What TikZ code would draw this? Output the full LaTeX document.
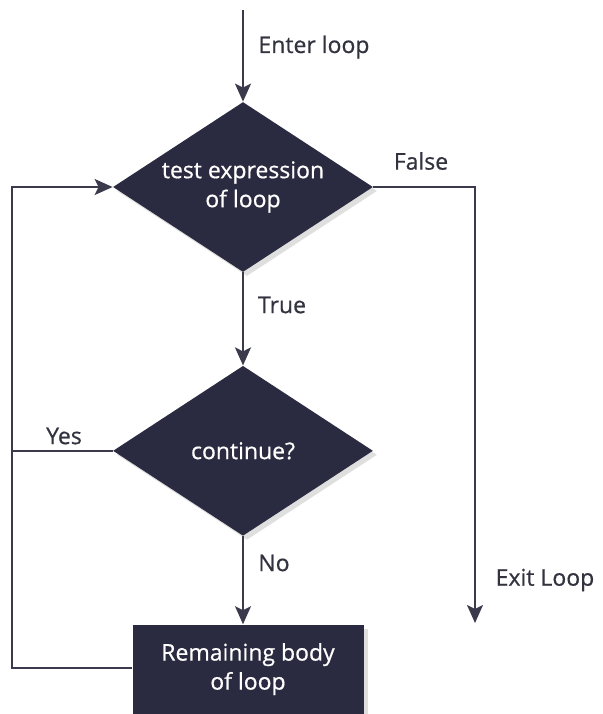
\documentclass[tikz,border=0pt]{standalone}
\usepackage{fontspec}
\setmainfont{Open Sans}
\newfontfamily\medfont{Open Sans}[FakeBold=0.6]
\usepackage{tikz}
\usetikzlibrary{shapes.geometric,arrows.meta,positioning,shadows}
\usepackage{xcolor}
\definecolor{loopnavy}{HTML}{2A2A40}
\definecolor{loopline}{HTML}{3A3A4C}
\definecolor{looptext}{HTML}{333340}
\tikzset{
  >={Stealth[length=9pt,width=8pt,inset=2pt]},
  decision/.style={diamond,fill=loopnavy,text=white,inner sep=0pt,
                   minimum width=130pt,minimum height=85pt,aspect=1.53,
                   align=center,font=\medfont\fontsize{11.5}{14.5}\selectfont,
                   drop shadow={opacity=0.25,shadow xshift=2pt,shadow yshift=-2pt}},
  bodybox/.style={rectangle,fill=loopnavy,text=white,
                  minimum width=115.5pt,minimum height=44.5pt,
                  align=center,font=\medfont\fontsize{11.5}{14.5}\selectfont,
                  drop shadow={opacity=0.25,shadow xshift=2pt,shadow yshift=-2pt}},
  lbl/.style={text=looptext,font=\medfont\fontsize{11.5}{13}\selectfont},
  arr/.style={->,line width=1pt,draw=loopline},
  ln/.style={line width=1pt,draw=loopline},
}
\begin{document}
\begin{tikzpicture}[x=0.5pt,y=-0.5pt]
    \useasboundingbox (0,0) rectangle (602,714);

    % Decision boxes
    \node[decision] (test) at (243,187) {test expression\\of loop};
    \node[decision,below=46.5pt of test] (cont) {continue?};
    \node[bodybox,below=44pt of cont,xshift=2.5pt] (body) {Remaining body\\of loop};

    % Free ends
    \coordinate (entry) at (243,10);
    \coordinate (exit) at (475,623);
    \coordinate (fcorner) at (475,187);
    \coordinate (lbottom) at (12,668);
    \coordinate (ltop) at (12,187);
    \coordinate (lmid) at (ltop |- cont.west);

    % Labels
    \node[lbl] (enter) at (314,47) {Enter loop};
    \node[lbl] (false) at (421,161) {False};
    \node[lbl] (true) at (282,305) {True};
    \node[lbl] (yes) at (64,436) {Yes};
    \node[lbl] (no) at (274,563) {No};
    \node[lbl] (exitlbl) at (545,580) {Exit Loop};

    % Arrows
    \draw[arr] (entry) -- (test.north);
    \draw[arr] (test.south) -- (cont.north);
    \draw[arr] (cont.south) -- (cont.south |- body.north);
    \draw[arr] (test.east) -- (fcorner) -- (exit);
    \draw[arr] (body.west |- lbottom) -- (lbottom) -- (ltop) -- (test.west);
    \draw[ln] (cont.west) -- (lmid);
\end{tikzpicture}
\end{document}
